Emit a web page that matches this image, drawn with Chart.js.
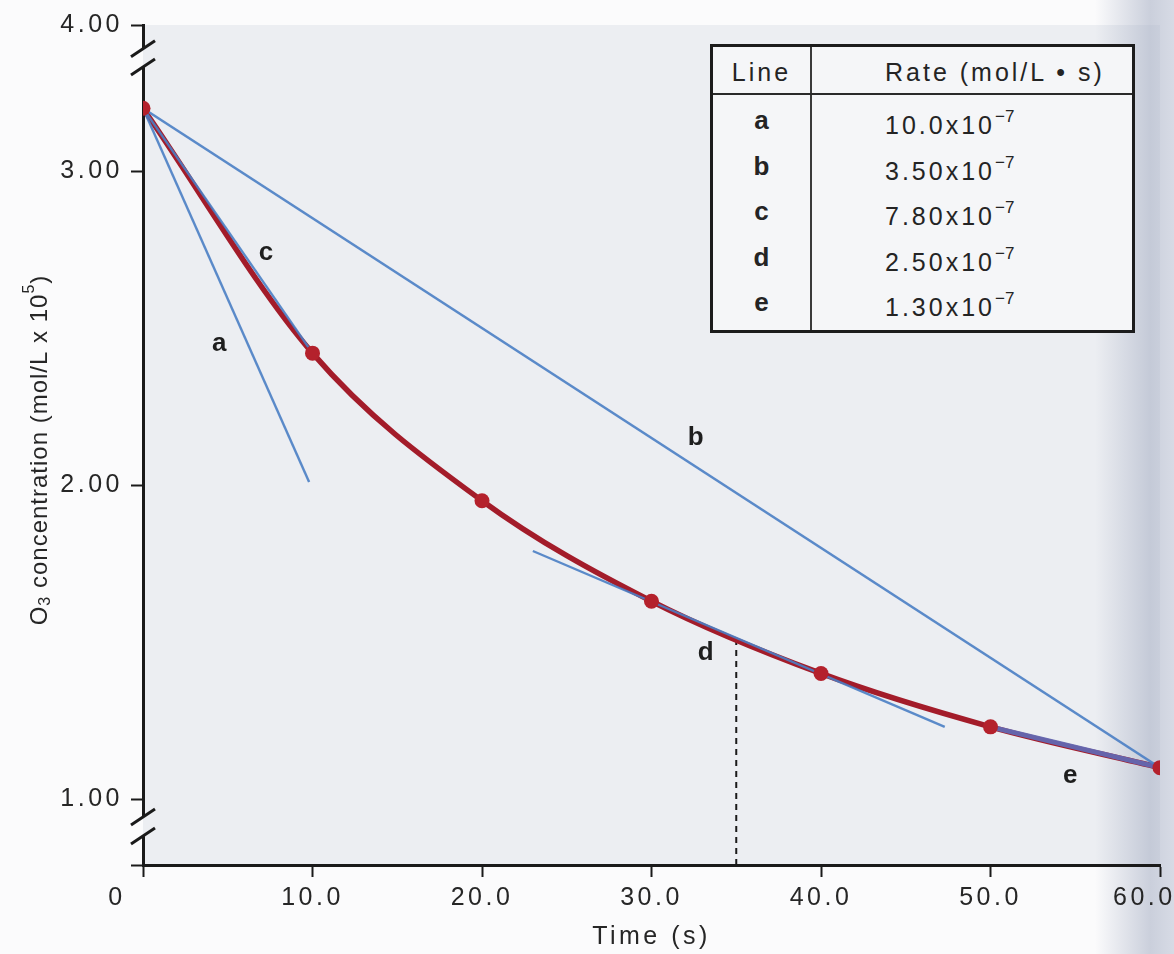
<!DOCTYPE html>
<html>
<head>
<meta charset="utf-8">
<script src="https://cdn.jsdelivr.net/npm/chart.js@4.4.0/dist/chart.umd.min.js"></script>
<style>
body { margin: 0; background: #fbfbfc; }
#wrap { position: relative; width: 1174px; height: 954px; overflow: hidden; }
#rates {
  position: absolute; left: 710px; top: 44px; width: 425px; height: 289px;
  box-sizing: border-box; border: 3px solid #1c1c1c; background: #f5f6f8;
  font-family: 'Liberation Sans', Arial, sans-serif; font-size: 25px; color: #242424;
  letter-spacing: 3px;
}
#rates .vline { position: absolute; left: 97px; top: 0; bottom: 0; width: 2px; background: #3a3a3a; }
#rates .hline { position: absolute; left: 0; right: 0; top: 46px; height: 2px; background: #2a2a2a; }
#rates .cell { position: absolute; line-height: 30px; white-space: nowrap; }
#rates .name { width: 97px; text-align: center; font-weight: bold; font-size: 26px; letter-spacing: 0; }
#rates sup { font-size: 17px; letter-spacing: 0; position: relative; top: -3px; }
</style>
</head>
<body>
<div id="wrap">
  <canvas id="ozone" width="1174" height="954"></canvas>
  <div id="rates"></div>
</div>
<script>
// O3 concentration (x10^5 mol/L) vs time
const timeS = [0, 10, 20, 30, 40, 50, 60];
const ozone = [3.20, 2.42, 1.95, 1.63, 1.40, 1.23, 1.10];

// tangent / chord lines a-e
const lineNames = ['a', 'b', 'c', 'd', 'e'];
const lineStart = [[0, 3.20], [0, 3.20], [0, 3.20], [23.0, 1.79], [50, 1.23]];
const lineEnd = [[9.8, 2.01], [60, 1.10], [10, 2.42], [47.3, 1.23], [60, 1.10]];
const labelAt = [[4.5, 2.45], [32.6, 2.15], [7.25, 2.74], [33.2, 1.465], [54.7, 1.075]];
const rateValues = ['10.0', '3.50', '7.80', '2.50', '1.30'];
const ratePower = '\u22127';
const dashLine = [35, 1.51];

const xTicks = [0, 10, 20, 30, 40, 50, 60];
const yTicks = [1, 2, 3];
const yTickLabels = ['1.00', '2.00', '3.00'];
// y axis is broken at both ends
const yLow = 0.79, yHigh = 3.465;
const yHighLabel = '4.00';
const yBreaks = [[3.389, 3.331], [0.943, 0.882]];

const FONT = "'Liberation Sans', Arial, sans-serif";
Chart.defaults.font.family = FONT;

// rate table
const rates = document.getElementById('rates');
let html = '<div class="vline"></div><div class="hline"></div>';
html += '<div class="cell name" style="left:0;top:10px;font-weight:normal;font-size:25px;letter-spacing:3px">Line</div>';
html += '<div class="cell" style="left:172px;top:10px">Rate (mol/L \u2022 s)</div>';
for (let i = 0; i < lineNames.length; i++) {
    const top = 58 + i * 45.5;
    html += `<div class="cell name" style="left:0;top:${top}px">${lineNames[i]}</div>`;
    html += `<div class="cell" style="left:172px;top:${top}px">${rateValues[i]}x10<sup>${ratePower}</sup></div>`;
}
rates.innerHTML = html;

const pts = (arr) => arr.map(p => ({x: p[0], y: p[1]}));

var datasets = [];
datasets.push({
    data: timeS.map((t, i) => ({x: t, y: ozone[i]})),
    showLine: false, pointRadius: 7.5, pointBackgroundColor: '#b4212c', pointBorderWidth: 0, order: 0
});
for (let i = 0; i < lineNames.length; i++) {
    datasets.push({
        data: pts([lineStart[i], lineEnd[i]]),
        showLine: true, pointRadius: 0,
        borderColor: lineNames[i] === 'e' ? 'rgba(98,104,178,0.95)' : 'rgba(74,126,196,0.9)',
        borderWidth: lineNames[i] === 'e' ? 5 : 2.4,
        order: 1
    });
}
datasets.push({
    data: timeS.map((t, i) => ({x: t, y: ozone[i]})),
    showLine: true, pointRadius: 0, borderColor: '#a31c2a', borderWidth: 5.5,
    cubicInterpolationMode: 'monotone', order: 2
});
datasets.push({
    data: pts([[dashLine[0], yLow], dashLine]),
    showLine: true, pointRadius: 0, borderColor: '#1a1a1a', borderWidth: 2, borderDash: [6, 5], order: 3
});

const paper = {
    id: 'paper',
    beforeDraw(chart) {
        const ctx = chart.ctx, ca = chart.chartArea;
        ctx.save();
        ctx.fillStyle = '#fbfbfc';
        ctx.fillRect(0, 0, chart.width, chart.height);
        ctx.fillStyle = '#eceef2';
        ctx.fillRect(ca.left, ca.top, ca.right - ca.left, ca.bottom - ca.top);
        const g = ctx.createLinearGradient(1095, 0, 1174, 0);
        g.addColorStop(0, 'rgba(170,178,198,0)');
        g.addColorStop(0.7, 'rgba(170,178,198,0.6)');
        g.addColorStop(1, 'rgba(185,192,210,0.55)');
        ctx.fillStyle = g;
        ctx.fillRect(1095, 0, 79, chart.height);
        ctx.restore();
        ctx.letterSpacing = '3.5px';
    },
    afterDraw(chart) {
        const ctx = chart.ctx, ys = chart.scales.y, xs = chart.scales.x;
        const ax = chart.chartArea.left;
        ctx.save();
        ctx.letterSpacing = '0px';
        // axis breaks
        yBreaks.forEach(([a, b]) => {
            const pa = ys.getPixelForValue(a), pb = ys.getPixelForValue(b);
            ctx.fillStyle = '#fbfbfc';
            ctx.fillRect(ax - 3, pa, 3, pb - pa);
            ctx.fillStyle = '#eceef2';
            ctx.fillRect(ax, pa, 3, pb - pa);
            ctx.strokeStyle = '#1a1a1a';
            ctx.lineWidth = 3;
            [pa, pb].forEach(p => {
                ctx.beginPath();
                ctx.moveTo(ax - 12, p + 8);
                ctx.lineTo(ax + 12, p - 8);
                ctx.stroke();
            });
        });
        // line letters
        ctx.fillStyle = '#1e1e1e';
        ctx.font = 'bold 26px ' + FONT;
        ctx.textAlign = 'center';
        ctx.textBaseline = 'middle';
        for (let i = 0; i < lineNames.length; i++) {
            ctx.fillText(lineNames[i], xs.getPixelForValue(labelAt[i][0]), ys.getPixelForValue(labelAt[i][1]));
        }
        // y axis title with sub/superscript
        ctx.translate(40, 450);
        ctx.rotate(-Math.PI / 2);
        ctx.letterSpacing = '1px';
        const parts = [['O', 0, 24], ['3', 6, 16], [' concentration (mol/L x 10', 0, 24], ['5', -10, 16], [')', 0, 24]];
        let total = 0;
        parts.forEach(p => { ctx.font = p[2] + 'px ' + FONT; total += ctx.measureText(p[0]).width; });
        let x = -total / 2;
        ctx.textAlign = 'left';
        ctx.fillStyle = '#262626';
        parts.forEach(p => {
            ctx.font = p[2] + 'px ' + FONT;
            ctx.fillText(p[0], x, p[1]);
            x += ctx.measureText(p[0]).width;
        });
        ctx.restore();
    }
};

const ctx = document.getElementById('ozone').getContext('2d');
var ozoneChart = new Chart(ctx, {
    type: 'scatter',
    data: { datasets: datasets },
    options: {
        responsive: false,
        animation: false,
        devicePixelRatio: 1,
        layout: { padding: { left: 0, top: 25, right: 14, bottom: 0 } },
        plugins: { legend: { display: false }, tooltip: { enabled: false } },
        scales: {
            x: {
                type: 'linear', min: 0, max: 60,
                afterBuildTicks: s => { s.ticks = xTicks.map(v => ({value: v})); },
                afterFit: s => { s.height = 89; s.paddingLeft = 0; s.paddingRight = 0; },
                ticks: {
                    font: { size: 25 }, color: '#262626', padding: 6, maxRotation: 0, autoSkip: false,
                    // first and last labels sit off-centre in the original
                    callback: v => v === 0 ? '0     ' : (v === 60 ? '60.0   ' : v.toFixed(1))
                },
                grid: { drawOnChartArea: false, drawTicks: true, tickLength: 12, tickColor: '#1a1a1a', tickWidth: 2 },
                border: { display: true, color: '#1a1a1a', width: 3 },
                title: { display: true, text: 'Time (s)', font: { size: 25 }, color: '#262626', padding: { top: 0, bottom: 2 } }
            },
            y: {
                type: 'linear', min: yLow, max: yHigh,
                afterBuildTicks: s => { s.ticks = [yLow, ...yTicks, yHigh].map(v => ({value: v})); },
                afterFit: s => { s.width = 143; s.paddingTop = 0; s.paddingBottom = 0; },
                ticks: {
                    font: { size: 25 }, color: '#262626', padding: 8, autoSkip: false,
                    callback: v => v === yHigh ? yHighLabel : (yTicks.indexOf(v) >= 0 ? yTickLabels[yTicks.indexOf(v)] : '')
                },
                grid: { drawOnChartArea: false, drawTicks: true, tickLength: 12, tickColor: '#1a1a1a', tickWidth: 2 },
                border: { display: true, color: '#1a1a1a', width: 3 }
            }
        }
    },
    plugins: [paper]
});
</script>
</body>
</html>
